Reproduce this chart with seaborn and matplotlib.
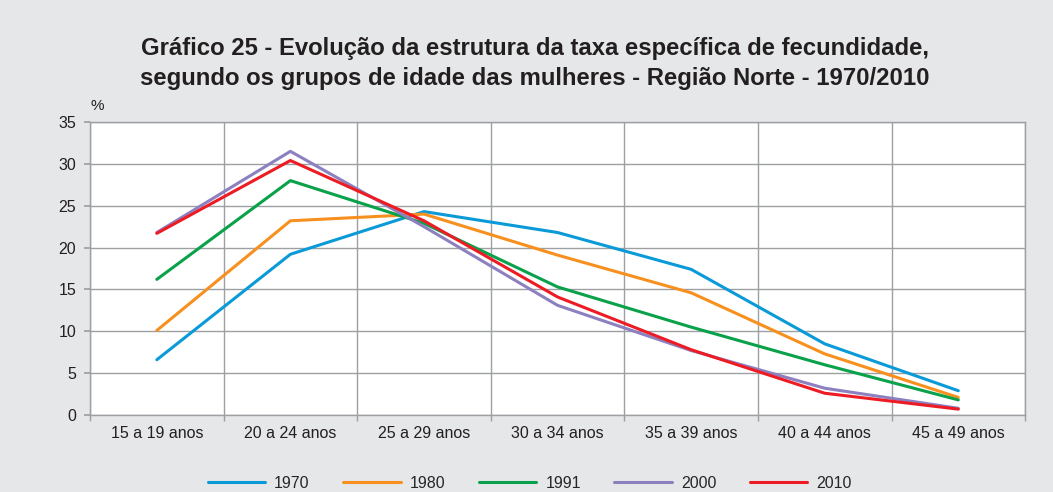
import numpy as np
import pandas as pd
import matplotlib
matplotlib.use("Agg")
import matplotlib.pyplot as plt
import seaborn as sns

# %% data
age_groups = ['15 a 19 anos', '20 a 24 anos', '25 a 29 anos', '30 a 34 anos',
              '35 a 39 anos', '40 a 44 anos', '45 a 49 anos']
years = ['1970', '1980', '1991', '2000', '2010']
tef_1970 = [6.6, 19.2, 24.3, 21.8, 17.4, 8.5, 2.9]
tef_1980 = [10.1, 23.2, 24.0, 19.1, 14.6, 7.3, 2.1]
tef_1991 = [16.2, 28.0, 22.9, 15.3, 10.5, 6.0, 1.8]
tef_2000 = [21.8, 31.5, 22.5, 13.1, 7.7, 3.2, 0.8]
tef_2010 = [21.7, 30.4, 23.2, 14.1, 7.8, 2.6, 0.7]
colors = ['#0a9ad7', '#f7901e', '#0aa14b', '#8d80c0', '#ed1c24']

# %%
plot_data = pd.concat([
    pd.DataFrame({'grupo': age_groups, 'taxa': vals, 'ano': yr})
    for yr, vals in zip(years, [tef_1970, tef_1980, tef_1991, tef_2000, tef_2010])
])

sns.set_theme(style='white')
plt.rcParams['font.family'] = ['Liberation Sans', 'DejaVu Sans']
bg = '#e6e7e8'
grid_c = '#9d9fa2'
txt_c = '#231f20'

fig = plt.figure(figsize=(10.53, 4.92), dpi=100, facecolor=bg)
ax = fig.add_axes([0.0855, 0.1565, 0.888, 0.5955])
ax.set_facecolor('white')
sns.lineplot(data=plot_data, x='grupo', y='taxa', hue='ano', palette=colors,
             linewidth=2.2, sort=False, ax=ax, legend=True)

ax.set_xlim(-0.5, 6.5)
ax.set_ylim(0, 35)
ax.set_yticks(range(0, 36, 5))
ax.set_xticks(range(7))
ax.set_xticklabels(age_groups)
ax.set_xticks(np.arange(-0.5, 7, 1), minor=True)
ax.grid(True, which='minor', axis='x', color=grid_c, linewidth=1)
ax.grid(True, which='major', axis='y', color=grid_c, linewidth=1)
ax.set_axisbelow(True)
ax.tick_params(axis='x', which='major', length=0, labelsize=11.5, pad=8, colors=txt_c)
ax.tick_params(axis='x', which='minor', length=4, color=grid_c, bottom=True)
ax.tick_params(axis='y', length=4, color=grid_c, left=True, labelsize=11.5, pad=6, colors=txt_c)
for s in ax.spines.values():
    s.set_color(grid_c)
    s.set_linewidth(1)
ax.set_xlabel('')
ax.set_ylabel('')
ax.text(0.0, 1.03, '%', transform=ax.transAxes, fontsize=11, color=txt_c, va='bottom')

fig.text(0.508, 0.902, 'Gráfico 25 - Evolução da estrutura da taxa específica de fecundidade,',
         ha='center', va='center', fontsize=17.2, fontweight='bold', color=txt_c)
fig.text(0.508, 0.84, 'segundo os grupos de idade das mulheres - Região Norte - 1970/2010',
         ha='center', va='center', fontsize=17.2, fontweight='bold', color=txt_c)

handles, labels = ax.get_legend_handles_labels()
ax.get_legend().remove()
fig.legend(handles, labels, loc='center', bbox_to_anchor=(0.503, 0.018), ncol=5,
           frameon=False, handlelength=3.6, columnspacing=2.1, handletextpad=0.56,
           fontsize=11.5, borderpad=0)

plt.savefig('out.png', dpi=100, facecolor=bg)
